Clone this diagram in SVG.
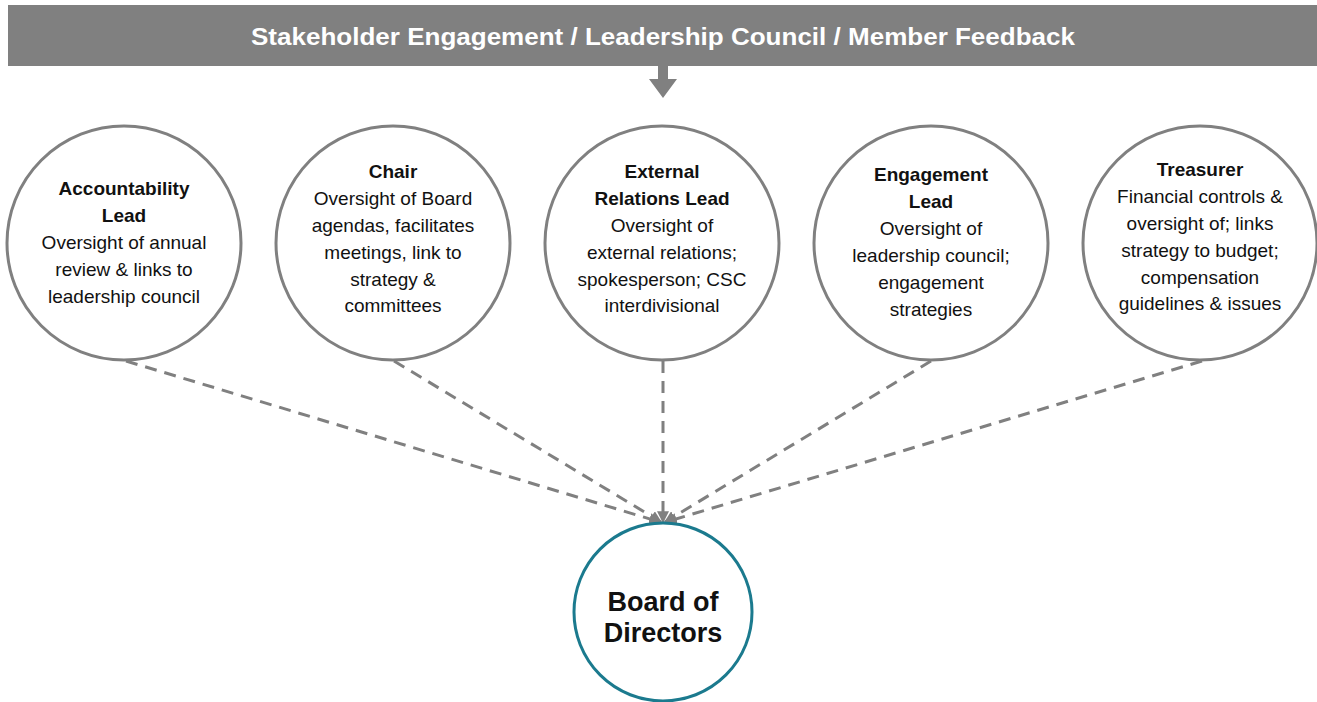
<svg xmlns="http://www.w3.org/2000/svg" width="1317" height="702" viewBox="0 0 1317 702">
<style>
.role{fill:#fff;stroke:#808080;stroke-width:3}
.board{fill:#fff;stroke:#1b7a8e;stroke-width:3}
.t{font-family:"Liberation Sans",Arial,sans-serif;font-size:19px;fill:#111;text-anchor:middle}
.b{font-weight:bold}
.big{font-size:27px}
.link{stroke:#808080;stroke-width:3;stroke-dasharray:12 8;fill:none;marker-end:url(#ah)}
</style>
<defs>
<marker id="ah" viewBox="0 0 10 10" refX="9" refY="5" markerWidth="4" markerHeight="4" orient="auto" markerUnits="strokeWidth">
<path d="M0,0 L10,5 L0,10 z" fill="#808080"/>
</marker>
</defs>
<g id="banner">
<rect x="8" y="5" width="1309" height="61" fill="#808080"/>
<text x="663" y="45" font-family="Liberation Sans,Arial,sans-serif" font-weight="bold" font-size="24" fill="#fff" text-anchor="middle" textLength="824" lengthAdjust="spacingAndGlyphs">Stakeholder Engagement / Leadership Council / Member Feedback</text>
<path d="M658,66 H668 V79 H677 L663,98 L649,79 H658 Z" fill="#808080"/>
</g>
<g id="connectors">
<line class="link" x1="126" y1="361" x2="660" y2="522"/>
<line class="link" x1="394" y1="361" x2="661" y2="522"/>
<line class="link" x1="663" y1="361" x2="663" y2="522"/>
<line class="link" x1="931" y1="361" x2="665" y2="522"/>
<line class="link" x1="1202" y1="361" x2="666" y2="522"/>
</g>
<g id="accountability">
<circle class="role" cx="124" cy="243" r="117"/>
<text class="t"><tspan class="b" x="124" y="195">Accountability</tspan><tspan class="b" x="124" y="222">Lead</tspan><tspan x="124" y="249">Oversight of annual</tspan><tspan x="124" y="276">review &amp; links to</tspan><tspan x="124" y="303">leadership council</tspan></text>
</g>
<g id="chair">
<circle class="role" cx="393" cy="243" r="117"/>
<text class="t"><tspan class="b" x="393" y="178">Chair</tspan><tspan x="393" y="205">Oversight of Board</tspan><tspan x="393" y="232">agendas, facilitates</tspan><tspan x="393" y="259">meetings, link to</tspan><tspan x="393" y="286">strategy &amp;</tspan><tspan x="393" y="312">committees</tspan></text>
</g>
<g id="external">
<circle class="role" cx="662" cy="243" r="117"/>
<text class="t"><tspan class="b" x="662" y="178">External</tspan><tspan class="b" x="662" y="205">Relations Lead</tspan><tspan x="662" y="232">Oversight of</tspan><tspan x="662" y="259">external relations;</tspan><tspan x="662" y="286">spokesperson; CSC</tspan><tspan x="662" y="312">interdivisional</tspan></text>
</g>
<g id="engagement">
<circle class="role" cx="931" cy="243" r="117"/>
<text class="t"><tspan class="b" x="931" y="181">Engagement</tspan><tspan class="b" x="931" y="208">Lead</tspan><tspan x="931" y="235">Oversight of</tspan><tspan x="931" y="262">leadership council;</tspan><tspan x="931" y="289">engagement</tspan><tspan x="931" y="316">strategies</tspan></text>
</g>
<g id="treasurer">
<circle class="role" cx="1200" cy="243" r="117"/>
<text class="t"><tspan class="b" x="1200" y="176">Treasurer</tspan><tspan x="1200" y="203">Financial controls &amp;</tspan><tspan x="1200" y="230">oversight of; links</tspan><tspan x="1200" y="257">strategy to budget;</tspan><tspan x="1200" y="284">compensation</tspan><tspan x="1200" y="310">guidelines &amp; issues</tspan></text>
</g>
<g id="board">
<circle class="board" cx="663" cy="612" r="89"/>
<text class="t b big"><tspan x="663" y="611">Board of</tspan><tspan x="663" y="642">Directors</tspan></text>
</g>
</svg>
